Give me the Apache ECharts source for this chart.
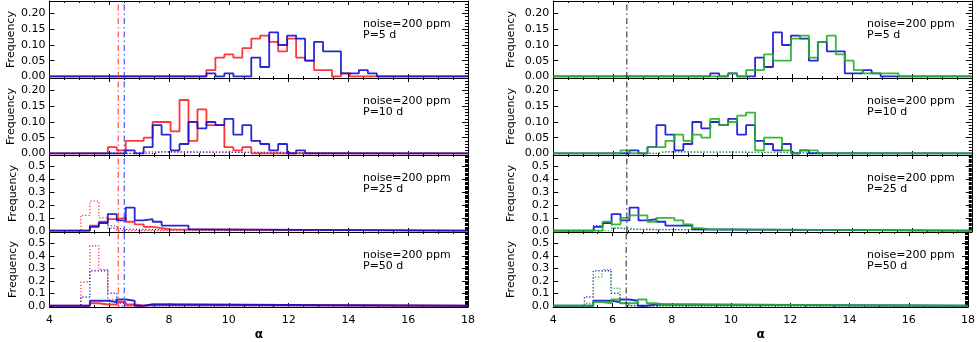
<!DOCTYPE html>
<html>
<head>
<meta charset="utf-8">
<script src="https://cdn.jsdelivr.net/npm/echarts@6/dist/echarts.min.js"></script>
<style>
  html, body { margin: 0; padding: 0; background: #fff; }
  #chart { width: 978px; height: 342px; }
</style>
</head>
<body>
<div id="chart"></div>
<script>
// histogram bins: width 0.3, bin k starts at 5.05 + 0.3*k
const binStart = 5.05;
const binWidth = 0.3;
const xMin = 4, xMax = 18;
const periods = ["5", "10", "25", "50"];
const alphaRed = 6.3, alphaBlue = 6.5, alphaBlack = 6.46;

// each series: first bin index, then frequencies
// P = 5 d
const red5Start = 14, red5 = [0.02,0.06,0.07,0.06,0.09,0.12,0.13,0.11,0.08,0.12,0.06,0.05,0.02,0.02,0,0.01];
const blue5Start = 14, blue5 = [0.01,0,0.01,0,0,0.06,0.03,0.14,0.10,0.13,0.12,0.05,0.11,0.08,0.08,0.01,0.01,0.02,0.01];
const green5Start = 16, green5 = [0.01,0,0.02,0.02,0.07,0.05,0.05,0.12,0.13,0.06,0.11,0.13,0.07,0.05,0.02,0.01,0.01,0.01,0.01];
// P = 10 d
const red10Start = 3, red10 = [0.02,0.01,0.04,0.04,0.05,0.10,0.10,0.07,0.17,0.04,0.14,0.09,0.09,0.02,0.01,0.02];
const blue10Start = 5, blue10 = [0.01,0,0.02,0.09,0.06,0.01,0.03,0.10,0.08,0.10,0.09,0.11,0.06,0.09,0.04,0.03,0.01,0.03,0,0.01];
const green10Start = 4, green10 = [0.01,0,0,0.02,0.02,0.04,0.06,0.04,0.06,0.05,0.11,0.09,0.10,0.12,0.13,0.01,0.05,0.05,0.01,0,0.01,0.01];
const redDot10Start = 6, redDot10 = [0.005];
const blueDot10Start = 8, blueDot10 = [0.005];
const greenDot10Start = 8, greenDot10 = [0.005];
// P = 25 d
const red25Start = 1, red25 = [0.04,0.07,0.09,0.10,0.07,0.05,0.03,0.02,0.01];
const blue25Start = 1, blue25 = [0.03,0.06,0.13,0.08,0.18,0.08,0.09,0.07,0.04,0.04,0.04,0.01];
const green25Start = 2, green25 = [0.07,0.05,0.10,0.12,0.12,0.07,0.10,0.10,0.08,0.05,0.02,0.01,0.01];
const redDot25Start = 0, redDot25 = [0.12,0.23,0.10,0.04];
const blueDot25Start = 1, blueDot25 = [0.04,0.06,0.02,0.01];
const greenDot25Start = 3, greenDot25 = [0.02,0.02,0.01];
// P = 50 d
const red50Start = 1, red50 = [0.02,0.01,0.01,0.03,0.01,0,0.01,0.01];
const blue50Start = 1, blue50 = [0.04,0.04,0.03,0.05,0.04,0,0.01,0.01];
const green50Start = 1, green50 = [0.03,0.02,0.05,0.02,0.02,0.05,0.02,0.01,0.01,0.01];
const redDot50Start = 0, redDot50 = [0.19,0.48,0.29,0.05];
const blueDot50Start = 0, blueDot50 = [0.07,0.28,0.28,0.10,0.02];
const greenDot50Start = 0, greenDot50 = [0.02,0.23,0.29,0.14,0.02];

// y ranges and tick values
const yRangeSmall = [-0.005, 0.24];
const yRangeBig = [-0.01, 0.59];
const yMajorSmall = [0, 0.05, 0.10, 0.15, 0.20];
const yMajorBig = [0, 0.1, 0.2, 0.3, 0.4, 0.5];

const RED = "#ff2020", BLUE = "#1010d0", GREEN = "#22b022";
const FONT = "DejaVu Sans";

function steps(start, vals) {
  const e0 = binStart + start * binWidth;
  const pts = [[xMin, 0], [e0, 0]];
  vals.forEach((v, i) => {
    const a = e0 + i * binWidth;
    pts.push([a, v]);
    pts.push([a + binWidth, v]);
  });
  pts.push([e0 + vals.length * binWidth, 0]);
  pts.push([xMax, 0]);
  return pts;
}

function minors(range, step, majors) {
  const out = [];
  for (let i = Math.ceil(range[0] / step); i * step <= range[1] + 1e-9; i++) {
    const v = +(i * step).toFixed(4);
    if (!majors.some(m => Math.abs(m - v) < 1e-6)) out.push(v);
  }
  return out;
}

const panelTop = [1, 78, 155, 232];
const panelH = 77;
const colLeft = [49.5, 553.3];
const colW = 418.5;

const grids = [], xAxes = [], yAxes = [], series = [], graphics = [];

// panel contents: [column][row] -> list of [start, values, color, dotted]
const panels = [
  [
    [[red5Start, red5, RED, false], [blue5Start, blue5, BLUE, false]],
    [[redDot10Start, redDot10, RED, true], [blueDot10Start, blueDot10, BLUE, true],
     [red10Start, red10, RED, false], [blue10Start, blue10, BLUE, false]],
    [[redDot25Start, redDot25, RED, true], [blueDot25Start, blueDot25, BLUE, true],
     [red25Start, red25, RED, false], [blue25Start, blue25, BLUE, false]],
    [[redDot50Start, redDot50, RED, true], [blueDot50Start, blueDot50, BLUE, true],
     [red50Start, red50, RED, false], [blue50Start, blue50, BLUE, false]]
  ],
  [
    [[blue5Start, blue5, BLUE, false], [green5Start, green5, GREEN, false]],
    [[blueDot10Start, blueDot10, BLUE, true], [greenDot10Start, greenDot10, GREEN, true],
     [blue10Start, blue10, BLUE, false], [green10Start, green10, GREEN, false]],
    [[blueDot25Start, blueDot25, BLUE, true], [greenDot25Start, greenDot25, GREEN, true],
     [blue25Start, blue25, BLUE, false], [green25Start, green25, GREEN, false]],
    [[blueDot50Start, blueDot50, BLUE, true], [greenDot50Start, greenDot50, GREEN, true],
     [blue50Start, blue50, BLUE, false], [green50Start, green50, GREEN, false]]
  ]
];

for (let c = 0; c < 2; c++) {
  for (let r = 0; r < 4; r++) {
    const g = grids.length;
    const big = r >= 2;
    const yr = big ? yRangeBig : yRangeSmall;
    const majors = big ? yMajorBig : yMajorSmall;
    const minorVals = minors(yr, 0.01, majors);
    const last = r === 3;
    grids.push({ left: colLeft[c], top: panelTop[r], width: colW, height: panelH });

    const xCommon = {
      gridIndex: g, type: "value", min: xMin, max: xMax, interval: 2,
      axisLine: { show: true, onZero: false, lineStyle: { color: "#000", width: 1 } },
      axisTick: { show: true, inside: true, length: 4, lineStyle: { color: "#000" } },
      minorTick: { show: true, splitNumber: 4, length: 2, lineStyle: { color: "#000" } },
      splitLine: { show: false }
    };
    xAxes.push(Object.assign({}, xCommon, {
      position: "bottom",
      axisLabel: { show: last, fontSize: 11, color: "#000", fontFamily: FONT, margin: 8 },
      name: last ? "α" : "", nameLocation: "middle", nameGap: 22,
      nameTextStyle: { fontSize: 12, fontWeight: "bold", color: "#000", fontFamily: FONT }
    }));
    xAxes.push(Object.assign({}, xCommon, { position: "top", axisLabel: { show: false } }));

    const yCommon = {
      gridIndex: g, type: "value", min: yr[0], max: yr[1],
      axisLine: { show: true, onZero: false, lineStyle: { color: "#000", width: 1 } },
      splitLine: { show: false }
    };
    yAxes.push(Object.assign({}, yCommon, {
      position: "left",
      axisTick: { show: true, inside: true, length: 5, customValues: majors, lineStyle: { color: "#000" } },
      axisLabel: {
        show: true, customValues: majors, fontSize: 11, color: "#000", fontFamily: FONT, margin: 4,
        formatter: v => v.toFixed(big ? 1 : 2)
      },
      name: "Frequency", nameLocation: "middle", nameGap: c === 0 ? 31 : 37,
      nameTextStyle: { fontSize: 11, color: "#000", fontFamily: FONT }
    }));
    yAxes.push(Object.assign({}, yCommon, {
      position: "right",
      axisTick: { show: true, inside: true, length: 6, customValues: majors, lineStyle: { color: "#000" } },
      axisLabel: { show: false }
    }));
    yAxes.push(Object.assign({}, yCommon, {
      position: "right",
      axisLine: { show: false },
      axisTick: { show: true, inside: true, length: 3, customValues: minorVals, lineStyle: { color: "#000" } },
      axisLabel: { show: false }
    }));

    panels[c][r].forEach(([start, vals, color, dotted]) => {
      series.push({
        type: "line", xAxisIndex: 2 * g, yAxisIndex: 3 * g,
        data: steps(start, vals), symbol: "none", silent: true, clip: true,
        lineStyle: { color: color, width: dotted ? 1.3 : 1.8, type: dotted ? [1.2, 2] : "solid", opacity: 0.9 }
      });
    });

    const vlines = c === 0 ? [[alphaRed, "#ff3030"], [alphaBlue, "#3030ff"]] : [[alphaBlack, "#222"]];
    vlines.forEach(([a, col]) => {
      series.push({
        type: "line", xAxisIndex: 2 * g, yAxisIndex: 3 * g,
        data: [[a, yr[0]], [a, yr[1]]], symbol: "none", silent: true,
        lineStyle: { color: col, width: 1, type: [6, 3, 1.5, 3] }
      });
    });

    const tx = c === 0 ? 363 : 867;
    graphics.push({
      type: "text", left: tx, top: panelTop[r] + 18, silent: true,
      style: { text: "noise=200 ppm", fontSize: 11, fontFamily: FONT, fill: "#000" }
    });
    graphics.push({
      type: "text", left: tx, top: panelTop[r] + 29, silent: true,
      style: { text: "P=" + periods[r] + " d", fontSize: 11, fontFamily: FONT, fill: "#000" }
    });
  }
}

const chart = echarts.init(document.getElementById("chart"), null, { renderer: "canvas" });
chart.setOption({
  animation: false,
  backgroundColor: "#fff",
  grid: grids,
  xAxis: xAxes,
  yAxis: yAxes,
  series: series,
  graphic: graphics
});
</script>
</body>
</html>
